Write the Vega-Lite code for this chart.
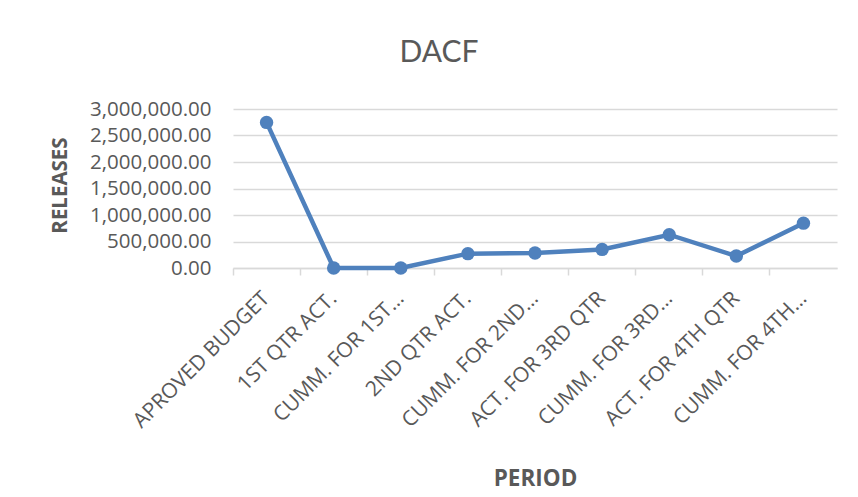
{
  "$schema": "https://vega.github.io/schema/vega-lite/v6.json",
  "autosize": "none",
  "width": 604,
  "height": 159,
  "padding": {"left": 233, "top": 109, "right": 21, "bottom": 229},
  "background": "white",
  "title": {
    "text": "DACF",
    "font": "Lato",
    "fontSize": 30,
    "fontWeight": "normal",
    "color": "#595959",
    "anchor": "middle",
    "frame": "group",
    "dx": -96,
    "offset": 31
  },
  "data": {
    "values": [
      {"period": "APROVED BUDGET", "releases": 2747000},
      {"period": "1ST QTR ACT.", "releases": 0},
      {"period": "CUMM. FOR 1ST…", "releases": 0},
      {"period": "2ND QTR ACT.", "releases": 271000},
      {"period": "CUMM. FOR 2ND…", "releases": 282000},
      {"period": "ACT. FOR 3RD QTR", "releases": 351000},
      {"period": "CUMM. FOR 3RD…", "releases": 628000},
      {"period": "ACT. FOR 4TH QTR", "releases": 226000},
      {"period": "CUMM. FOR 4TH…", "releases": 846000}
    ]
  },
  "mark": {
    "type": "line",
    "color": "#4F81BD",
    "strokeWidth": 4.5,
    "point": {"filled": true, "size": 180, "color": "#4F81BD", "opacity": 1}
  },
  "encoding": {
    "x": {
      "field": "period",
      "type": "nominal",
      "sort": null,
      "scale": {"type": "band", "paddingInner": 0, "paddingOuter": 0},
      "axis": {
        "title": "PERIOD",
        "titleFont": "Open Sans",
        "titleFontSize": 22.5,
        "titleFontWeight": "bold",
        "titleColor": "#595959",
        "titleY": 210,
        "titleBaseline": "middle",
        "labelFont": "Open Sans",
        "labelFontSize": 21,
        "labelColor": "#595959",
        "labelAngle": -45,
        "labelAlign": "right",
        "labelBaseline": "middle",
        "labelPadding": 20,
        "labelLimit": 300,
        "bandPosition": 0,
        "domainColor": "#d9d9d9",
        "domainWidth": 1.5,
        "tickColor": "#d9d9d9",
        "tickWidth": 1.5,
        "tickSize": 7,
        "grid": false
      }
    },
    "y": {
      "field": "releases",
      "type": "quantitative",
      "scale": {"domain": [0, 3000000], "nice": false},
      "axis": {
        "title": "RELEASES",
        "titleFont": "Open Sans",
        "titleFontSize": 20.5,
        "titleFontWeight": "bold",
        "titleColor": "#595959",
        "titleX": -173,
        "titleY": 76,
        "titleAngle": -90,
        "titleAlign": "center",
        "titleBaseline": "middle",
        "values": [0, 500000, 1000000, 1500000, 2000000, 2500000, 3000000],
        "format": ",.2f",
        "labelFont": "Open Sans",
        "labelFontSize": 20.5,
        "labelColor": "#595959",
        "labelPadding": 22,
        "ticks": false,
        "domain": false,
        "grid": true,
        "gridColor": "#d9d9d9",
        "gridWidth": 1.5
      }
    }
  },
  "config": {"view": {"stroke": null}}
}
